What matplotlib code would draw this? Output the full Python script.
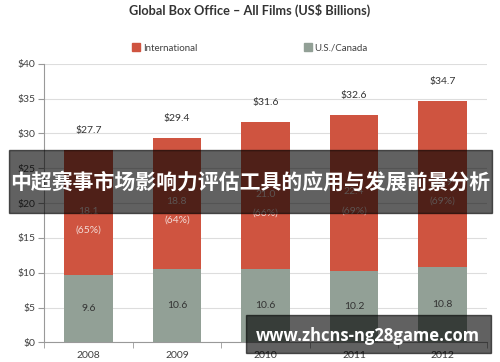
import matplotlib
matplotlib.use("Agg")
import matplotlib.pyplot as plt
from matplotlib.patches import Rectangle, Patch

years = ["2008", "2009", "2010", "2011", "2012"]
us_canada = [9.6, 10.6, 10.6, 10.2, 10.8]
international = [18.1, 18.8, 21.0, 22.4, 23.9]
totals = [27.7, 29.4, 31.6, 32.6, 34.7]
intl_pct = ["65%", "64%", "66%", "69%", "69%"]
yticks = [0, 5, 10, 15, 20, 25, 30, 35, 40]

RED = "#CF5440"
GRAY = "#92A096"

plt.rcParams['font.family'] = ['Lato', 'DejaVu Sans']

fig = plt.figure(figsize=(5, 3.62), dpi=100)
ax = fig.add_axes([0.088, 0.0544, 0.886, 0.7691])

x = list(range(len(years)))
w = 0.55
ax.bar(x, us_canada, width=w, color=GRAY, zorder=3, label="U.S./Canada")
ax.bar(x, international, bottom=us_canada, width=w, color=RED, zorder=3, label="International")

ax.set_xlim(-0.5, len(years) - 0.5)
ax.set_ylim(0, 40)
ax.set_yticks(yticks)
ax.set_yticklabels([f"${v}" for v in yticks], fontsize=7.5, color="#404040")
ax.yaxis.grid(True, color="#DDDDDD", lw=0.8, zorder=0)
ax.set_xticks(x)
ax.set_xticklabels(years, fontsize=7.5, color="#404040")
ax.tick_params(axis='x', length=0, pad=6)
ax.set_xticks([i + 0.5 for i in range(-1, len(years))], minor=True)
ax.tick_params(axis='x', which='minor', length=4, color="#999999")
ax.tick_params(axis='y', length=4, color="#999999", pad=2)
for s in ['top', 'right']:
    ax.spines[s].set_visible(False)
for s in ['left', 'bottom']:
    ax.spines[s].set_color("#999999")

for i in x:
    ax.text(i, us_canada[i] / 2, f"{us_canada[i]:.1f}", ha='center', va='center',
            fontsize=7.5, color="#333333", zorder=4)
    mid = us_canada[i] + international[i] / 2
    ax.text(i, mid + 0.2, f"{international[i]:.1f}", ha='center', va='center',
            fontsize=7.5, color="#F3DCD7", zorder=4)
    ax.text(i, mid - 2.5, f"({intl_pct[i]})", ha='center', va='center',
            fontsize=7.5, color="#F3DCD7", zorder=4)
    ax.text(i, totals[i] + 2.8, f"${totals[i]:.1f}", ha='center', va='center',
            fontsize=7.5, color="#333333", zorder=4)

fig.text(0.5, 1 - 10 / 362, "Global Box Office \u2013 All Films (US$ Billions)",
         ha='center', va='center', fontsize=9.2, fontweight='bold', color="#333333")

handles = [Patch(color=RED), Patch(color=GRAY)]
fig.legend(handles, ["International", "U.S./Canada"], loc='center',
           bbox_to_anchor=(0.5, 1 - 48 / 362), ncol=2, frameon=False,
           fontsize=7, handlelength=0.8, handleheight=0.8, handletextpad=0.3,
           columnspacing=11, labelcolor="#404040")

# banner overlay
fig.patches.append(Rectangle((9 / 500, 1 - 213 / 362), 483 / 500, 63 / 362,
                             transform=fig.transFigure, color="black", alpha=0.62,
                             zorder=10))
fig.text(0.5, 1 - 182 / 362, "中超赛事市场影响力评估工具的应用与发展前景分析",
         ha='center', va='center', fontsize=15, fontweight='bold', color="white",
         family=['Noto Sans CJK SC', 'DejaVu Sans'], zorder=11)

# watermark
fig.patches.append(Rectangle((246 / 500, 1 - 353 / 362), 245 / 500, 38 / 362,
                             transform=fig.transFigure, color="black", alpha=0.62,
                             zorder=10))
fig.text(368 / 500, 1 - 336 / 362, "www.zhcns-ng28game.com",
         ha='center', va='center', fontsize=12, fontweight='bold', color="white",
         family=['Open Sans', 'DejaVu Sans'], zorder=11)

fig.savefig("out.png", dpi=100)
